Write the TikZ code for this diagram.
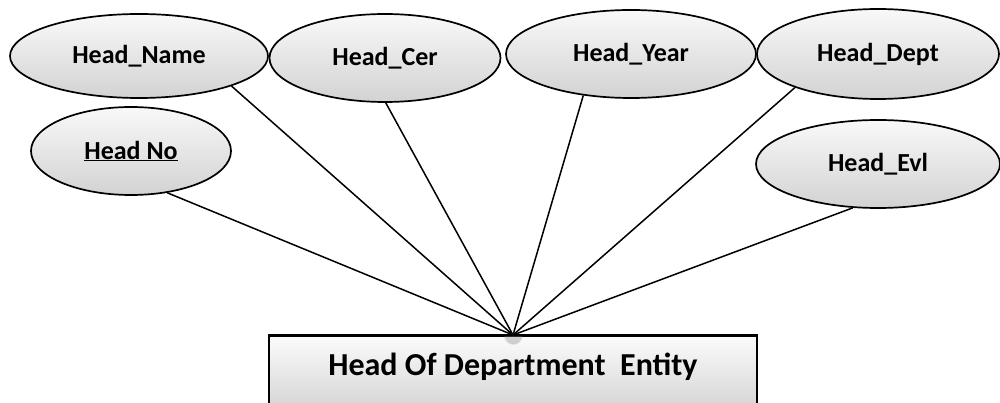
\documentclass[tikz,border=0pt]{standalone}
\usepackage{fontspec}
\setmainfont{Carlito}
\usetikzlibrary{shapes.geometric,fadings}
\begin{document}
\begin{tikzpicture}[x=1pt,y=-1pt,
  attr/.style={ellipse, draw=black, line width=1.7pt, inner sep=0pt,
    top color=gray!5, bottom color=gray!35,
    font=\bfseries\fontsize{26}{28}\selectfont},
  entitybox/.style={rectangle, draw=black, line width=1.7pt, inner sep=0pt,
    top color=gray!3, bottom color=gray!40},
  link/.style={line width=1.5pt}]
\useasboundingbox (0,0) rectangle (1000,403);
% entity rectangle (runs off the lower edge)
\node[entitybox, minimum width=488pt, minimum height=90pt, anchor=north] (ent) at (513,335) {};
\coordinate (hub) at (ent.north);
% soft shadow where the connectors meet the box
\begin{scope}
  \clip (ent.north west) rectangle (ent.south east);
  \fill[gray, path fading=circle with fuzzy edge 20 percent, fill opacity=0.35] (hub) circle (10);
\end{scope}
\draw[line width=1.7pt] (ent.north west) -- (ent.north east);
\node[font=\bfseries\fontsize{32}{34}\selectfont] (entlabel) at (513,367) {Head Of Department\ \ Entity};
% attributes
\node[attr, minimum width=258pt, minimum height=84pt] (name) at (139,56) {Head\_Name};
\node[attr, minimum width=231pt, minimum height=88pt] (cer) at (385,58) {Head\_Cer};
\node[attr, minimum width=250pt, minimum height=88pt] (year) at (631,54) {Head\_Year};
\node[attr, minimum width=242pt, minimum height=90pt] (dept) at (878,54) {Head\_Dept};
\node[attr, minimum width=200pt, minimum height=88pt] (no) at (131,151) {\underline{Head No}};
\node[attr, minimum width=244pt, minimum height=88pt] (evl) at (878,164) {Head\_Evl};
% connectors into the top of the entity
\draw[link] (name.-18) -- (hub);
\draw[link] (cer.-89) -- (hub);
\draw[link] (year.-139) -- (hub);
\draw[link] (dept.-158) -- (hub);
\draw[link] (no.-49) -- (hub);
\draw[link] (evl.-120) -- (hub);
\end{tikzpicture}
\end{document}
